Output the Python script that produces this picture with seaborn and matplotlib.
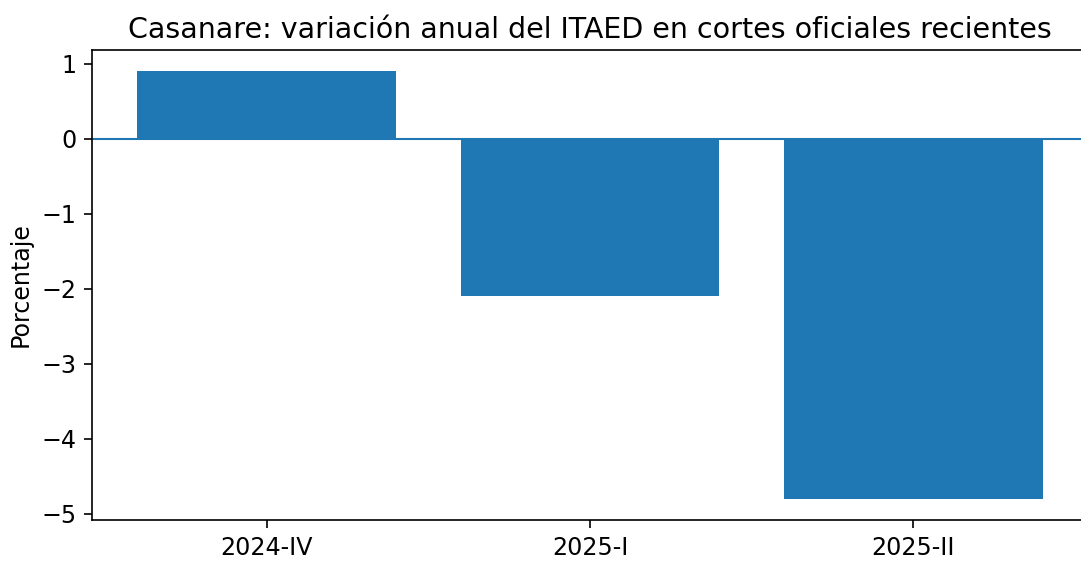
import matplotlib
matplotlib.use("Agg")
import matplotlib.pyplot as plt
import seaborn as sns
import pandas as pd

periodos = ["2024-IV", "2025-I", "2025-II"]
variacion = [0.9, -2.1, -4.8]

df = pd.DataFrame({"periodo": periodos, "variacion": variacion})

plt.rcParams["font.size"] = 11.4
plt.rcParams["xtick.major.size"] = 4
plt.rcParams["ytick.major.size"] = 4

fig = plt.figure(figsize=(1081 / 150, 561 / 150), dpi=150)
ax = fig.add_axes([92 / 1081, 41 / 561, (1088 - 92) / 1081, (520 - 50) / 561])
sns.barplot(data=df, x="periodo", y="variacion", color="#1f77b4", saturation=1,
            width=0.8, ax=ax)
ax.axhline(0, color="#1f77b4", linewidth=1)
ax.set_xlim(-0.54, 2.54)
ax.set_title("Casanare: variación anual del ITAED en cortes oficiales recientes", fontsize=13.7)
ax.set_xlabel("")
ax.set_ylabel("Porcentaje")
fig.savefig("out.png", dpi=150)
